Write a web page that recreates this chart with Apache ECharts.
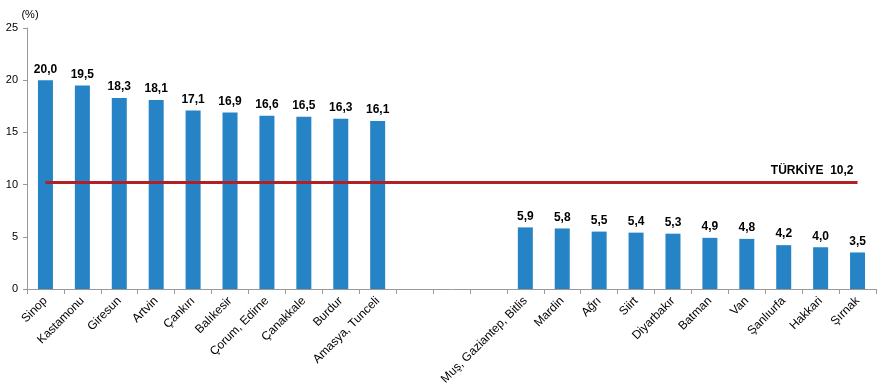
<!DOCTYPE html>
<html><head><meta charset="utf-8">
<script src="https://cdn.jsdelivr.net/npm/echarts@6/dist/echarts.min.js"></script>
<style>html,body{margin:0;padding:0;background:#fff}#c{width:882px;height:391px}</style>
</head><body><div id="c"></div>
<script>
const categories = ['Sinop','Kastamonu','Giresun','Artvin','Çankırı','Balıkesir','Çorum, Edirne','Çanakkale','Burdur','Amasya, Tunceli',' ','  ','   ',
  'Muş, Gaziantep, Bitlis','Mardin','Ağrı','Siirt','Diyarbakır','Batman','Van','Şanlıurfa','Hakkari','Şırnak'];
const values = [20.0,19.5,18.3,18.1,17.1,16.9,16.6,16.5,16.3,16.1,null,null,null,5.9,5.8,5.5,5.4,5.3,4.9,4.8,4.2,4.0,3.5];
const turkiyeValue = 10.2;
const turkiyeLabel = 'TÜRKİYE';
const yTicks = [0,5,10,15,20,25];

const chart = echarts.init(document.getElementById('c'));
chart.setOption({
  animation:false,
  grid:{left:27,right:6,top:28,bottom:102,containLabel:false},
  xAxis:{type:'category',data:categories,boundaryGap:true,
    axisLine:{lineStyle:{color:'#999',width:1}},
    axisTick:{show:true,alignWithLabel:false,length:5,lineStyle:{color:'#999'}},
    axisLabel:{rotate:45,interval:0,color:'#000',fontFamily:'Liberation Sans, Arial',fontSize:12,margin:10}},
  yAxis:{type:'value',min:yTicks[0],max:yTicks[yTicks.length-1],interval:5,
    name:'(%)',nameLocation:'end',nameGap:8,nameTextStyle:{color:'#000',fontFamily:'Liberation Sans, Arial',fontSize:11,align:'center',padding:[0,0,0,6]},
    axisLine:{show:true,lineStyle:{color:'#999'}},
    axisTick:{show:true,length:4,lineStyle:{color:'#999'}},
    splitLine:{show:false},
    axisLabel:{color:'#000',fontFamily:'Liberation Sans, Arial',fontSize:11,margin:9}},
  series:[{type:'bar',data:values,barWidth:15,
    itemStyle:{color:'#2683C6'},
    label:{show:true,position:'top',distance:5,color:'#000',fontWeight:'bold',fontFamily:'Liberation Sans, Arial',fontSize:12,
      formatter:p=>p.value==null?'':p.value.toFixed(1).replace('.',',')},
    markLine:{symbol:'none',silent:true,
      lineStyle:{color:'#B22027',width:3,type:'solid'},
      label:{show:true,position:'insideEndTop',distance:[4,6],color:'#000',fontWeight:'bold',fontFamily:'Liberation Sans, Arial',fontSize:12,
        formatter:turkiyeLabel+'  '+turkiyeValue.toFixed(1).replace('.',',')},
      data:[[{coord:[categories[0],turkiyeValue]},{coord:[categories[categories.length-1],turkiyeValue]}]]}
  }]
});
</script></body></html>
